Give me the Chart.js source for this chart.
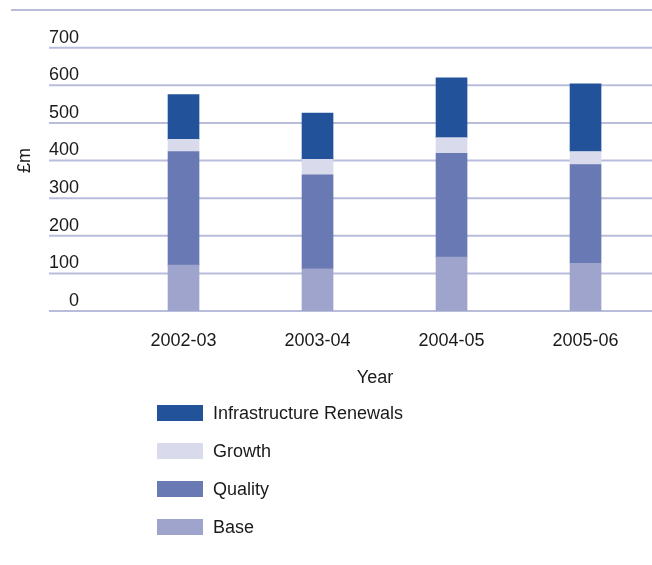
<!DOCTYPE html>
<html>
	<head>
		<meta charset="utf-8" />
		<script src="https://cdn.jsdelivr.net/npm/chart.js@4.4.1/dist/chart.umd.min.js"></script>
		<style>
			html, body {
				margin: 0;
				padding: 0;
				background: #ffffff;
			}
			#wrap {
				position: relative;
				width: 652px;
				height: 565px;
			}
			#legend {
				position: absolute;
				left: 157px;
				top: 404px;
				font-family: "Liberation Sans", Arial, sans-serif;
				font-size: 18px;
				color: #1a1a1a;
			}
			.item {
				display: flex;
				align-items: center;
				height: 18px;
				margin-bottom: 20px;
			}
			.box {
				width: 46px;
				height: 16px;
				margin-right: 10px;
			}
		</style>
		<title>Capital expenditure</title>
	</head>

	<body>
		<div id="wrap">
			<canvas id="myChart" width="652" height="565"></canvas>
			<div id="legend"></div>
		</div>

		<script>
			// Spending by year, £m
			const years = ["2002-03", "2003-04", "2004-05", "2005-06"];
			const base = [122, 112, 143, 127];
			const quality = [302, 250, 276, 262];
			const growth = [32, 41, 42, 35];
			const renewals = [119, 123, 159, 180];
			const yTicks = [0, 100, 200, 300, 400, 500, 600, 700];

			const lineColour = "#b9bddc";
			const textColour = "#1a1a1a";
			const ruleLeft = 49; // grid rules start left of the tick labels

			Chart.defaults.font.family = "'Liberation Sans', Arial, sans-serif";
			Chart.defaults.font.size = 18;
			Chart.defaults.color = textColour;

			function points(values) {
				return values.map((v, i) => ({ x: i, y: v }));
			}

			// Grid rules run under the labels, so draw them here
			const rules = {
				id: "rules",
				beforeDatasetsDraw(chart) {
					const ctx = chart.ctx;
					const ys = chart.scales.y;
					ctx.save();
					ctx.strokeStyle = lineColour;
					ctx.lineWidth = 2;
					yTicks.forEach((v) => {
						const y = ys.getPixelForValue(v);
						ctx.beginPath();
						ctx.moveTo(ruleLeft, y);
						ctx.lineTo(chart.width, y);
						ctx.stroke();
					});
					const top = ys.getPixelForValue(800);
					ctx.beginPath();
					ctx.moveTo(11, top);
					ctx.lineTo(chart.width, top);
					ctx.stroke();
					ctx.restore();
				},
				afterDraw(chart) {
					const ctx = chart.ctx;
					ctx.save();
					ctx.fillStyle = textColour;
					ctx.font = "18px 'Liberation Sans', Arial, sans-serif";
					ctx.textAlign = "center";
					ctx.textBaseline = "middle";
					ctx.fillText("Year", 375, 378);
					ctx.restore();
				},
			};

			const chart = new Chart(document.getElementById("myChart"), {
				type: "bar",
				data: {
					datasets: [
						{ label: "Base", data: points(base), backgroundColor: "#9ea4cb" },
						{ label: "Quality", data: points(quality), backgroundColor: "#6879b3" },
						{ label: "Growth", data: points(growth), backgroundColor: "#d9dbed" },
						{ label: "Infrastructure Renewals", data: points(renewals), backgroundColor: "#22529a" },
					],
				},
				plugins: [rules],
				options: {
					responsive: false,
					animation: false,
					barThickness: 31,
					layout: {
						padding: { top: 10, left: 0, right: 0, bottom: 194 },
					},
					plugins: {
						legend: { display: false },
						tooltip: { enabled: false },
					},
					scales: {
						x: {
							type: "linear",
							stacked: true,
							offset: false,
							min: -0.765,
							max: 3.496,
							afterBuildTicks: (scale) => {
								scale.ticks = years.map((_, i) => ({ value: i }));
							},
							afterFit: (scale) => {
								scale.height = 60;
								scale.paddingLeft = 0;
								scale.paddingRight = 0;
							},
							ticks: {
								padding: 11,
								callback: (v) => years[v] || "",
							},
							grid: { display: false },
							border: { display: false },
						},
						y: {
							stacked: true,
							min: 0,
							max: 800,
							afterBuildTicks: (scale) => {
								scale.ticks = yTicks.map((v) => ({ value: v }));
							},
							afterFit: (scale) => {
								scale.width = 81;
								scale.paddingTop = 0;
								scale.paddingBottom = 0;
							},
							ticks: {
								padding: 2,
								labelOffset: -10,
							},
							grid: { display: false, drawTicks: false },
							border: { display: false },
							title: {
								display: true,
								text: "£m",
								padding: { top: 14, bottom: 0 },
							},
						},
					},
				},
			});

			// Legend listed top to bottom in stack order, highest first
			const legend = document.getElementById("legend");
			chart.data.datasets
				.slice()
				.reverse()
				.forEach((ds) => {
					const item = document.createElement("div");
					item.className = "item";
					const box = document.createElement("div");
					box.className = "box";
					box.style.background = ds.backgroundColor;
					const text = document.createElement("span");
					text.textContent = ds.label;
					item.appendChild(box);
					item.appendChild(text);
					legend.appendChild(item);
				});
		</script>
	</body>
</html>
